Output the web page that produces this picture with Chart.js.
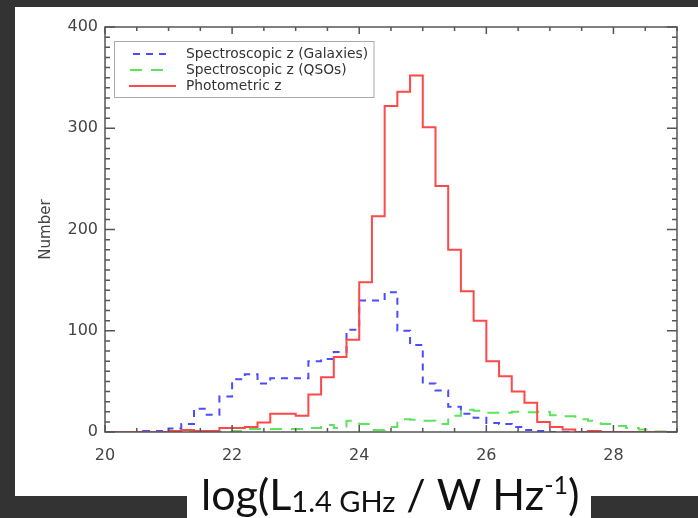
<!DOCTYPE html>
<html>
<head>
<meta charset="utf-8">
<script src="https://cdn.jsdelivr.net/npm/chart.js@4.4.1/dist/chart.umd.min.js"></script>
<style>
  html, body { margin: 0; padding: 0; background: #333; }
  #chart { display: block; }
</style>
</head>
<body>
<canvas id="chart" width="698" height="518"></canvas>
<script>
// bin edges of the histograms (0.2 wide)
const binEdges = [
  20.0, 20.2, 20.4, 20.6, 20.8, 21.0, 21.2, 21.4, 21.6, 21.8,
  22.0, 22.2, 22.4, 22.6, 22.8, 23.0, 23.2, 23.4, 23.6, 23.8,
  24.0, 24.2, 24.4, 24.6, 24.8, 25.0, 25.2, 25.4, 25.6, 25.8,
  26.0, 26.2, 26.4, 26.6, 26.8, 27.0, 27.2, 27.4, 27.6, 27.8,
  28.0, 28.2, 28.4, 28.6, 28.8, 29.0
];

// counts per bin
const galaxies = [
  0, 0, 0, 1, 1, 3.5, 8, 23, 17, 35,
  52, 57, 48, 53, 53, 53, 70, 72, 79, 101,
  130, 130, 138, 100, 86, 48, 41, 25, 18, 14,
  9, 8, 5, 2, 1, 0, 0, 0, 0, 0,
  0, 0, 0, 0, 0
];
const qsos = [
  0, 0, 0, 0, 0, 0, 0, 0, 0, 0.5,
  1, 3, 3, 3, 3, 3, 4, 7, 4, 11,
  8, 2, 5, 12.5, 12, 11, 8, 16, 22, 21,
  19, 19, 20, 19.5, 20, 16.5, 15.5, 12.5, 11, 8,
  6, 4, 2.5, 0.5, 0.5
];
const photometric = [
  0, 0, 0, 0, 0, 1, 2, 1, 1, 4,
  4, 5, 9.5, 18, 18, 16, 37, 54, 74, 91,
  148, 213, 322, 336, 352, 301, 243, 180, 139, 110,
  70, 55, 40, 29, 10, 5, 2.5, 0, 1, 0,
  0, 0, 0, 0, 0
];

const seriesLabels = ['Spectroscopic z (Galaxies)', 'Spectroscopic z (QSOs)', 'Photometric z'];
const xTicks = [20, 22, 24, 26, 28];
const yTicks = [0, 100, 200, 300, 400];

const BLUE = '#4b4bff';
const GREEN = '#5ee35e';
const RED = '#ff4848';
const AXIS = '#555';
const TEXT = '#444';

function toSteps(counts) {
  // one point per left bin edge, plus the closing right edge
  return binEdges.map((x, i) => ({ x: x, y: counts[Math.min(i, counts.length - 1)] }));
}

// white slide panels behind the plot
const backdrop = {
  id: 'backdrop',
  beforeDraw(chart) {
    const ctx = chart.ctx;
    ctx.save();
    ctx.fillStyle = '#333';
    ctx.fillRect(0, 0, chart.width, chart.height);
    ctx.fillStyle = '#fff';
    ctx.fillRect(15, 7, 683, 489);
    ctx.fillRect(187, 470, 404, 48);
    ctx.restore();
  }
};

// IDL style box with inward ticks
const frame = {
  id: 'frame',
  afterDatasetsDraw(chart) {
    const { ctx, chartArea: a, scales: { x, y } } = chart;
    ctx.save();
    ctx.strokeStyle = AXIS;
    ctx.lineWidth = 1.5;
    ctx.strokeRect(a.left, a.top, a.right - a.left, a.bottom - a.top);
    ctx.beginPath();
    for (let k = 0; k <= 18; k++) {
      const v = 20 + k * 0.5;
      const px = x.getPixelForValue(v);
      const len = k % 4 === 0 ? 7 : 4;
      ctx.moveTo(px, a.bottom); ctx.lineTo(px, a.bottom - len);
      ctx.moveTo(px, a.top); ctx.lineTo(px, a.top + len);
    }
    for (let k = 0; k <= 40; k++) {
      const py = y.getPixelForValue(k * 10);
      const len = k % 10 === 0 ? 10 : 5;
      ctx.moveTo(a.left, py); ctx.lineTo(a.left + len, py);
      ctx.moveTo(a.right, py); ctx.lineTo(a.right - len, py);
    }
    ctx.stroke();
    ctx.restore();
  }
};

// legend box in the top left corner of the plot
const boxLegend = {
  id: 'boxLegend',
  afterDraw(chart) {
    const ctx = chart.ctx;
    const rows = [
      { ds: chart.data.datasets[1], y: 54, x0: 133, x1: 168 },
      { ds: chart.data.datasets[2], y: 70, x0: 130, x1: 168 },
      { ds: chart.data.datasets[0], y: 86, x0: 129, x1: 176 }
    ];
    ctx.save();
    ctx.strokeStyle = '#aaa';
    ctx.lineWidth = 1;
    ctx.strokeRect(114.5, 41.5, 259.5, 56);
    ctx.font = '13.8px "DejaVu Sans"';
    ctx.textBaseline = 'middle';
    ctx.fillStyle = '#333';
    rows.forEach(r => {
      ctx.strokeStyle = r.ds.borderColor;
      ctx.lineWidth = 2;
      ctx.setLineDash(r.ds.borderDash || []);
      ctx.beginPath();
      ctx.moveTo(r.x0, r.y);
      ctx.lineTo(r.x1, r.y);
      ctx.stroke();
      ctx.setLineDash([]);
      ctx.fillText(r.ds.label, 186, r.y);
    });
    ctx.restore();
  }
};

// x axis title with subscript and superscript
const xTitle = {
  id: 'xTitle',
  afterDraw(chart) {
    const ctx = chart.ctx;
    const runs = [
      { t: 'log(L', size: 43, dy: 0 },
      { t: '1.4 GHz', size: 29, dy: 2 },
      { t: ' / W Hz', size: 43, dy: 0 },
      { t: '-1', size: 25, dy: -16 },
      { t: ')', size: 43, dy: 0 }
    ];
    ctx.save();
    ctx.fillStyle = '#111';
    ctx.textBaseline = 'alphabetic';
    let x = 201;
    const base = 510;
    runs.forEach(r => {
      ctx.font = r.size + 'px Lato';
      ctx.fillText(r.t, x, base + r.dy);
      x += ctx.measureText(r.t).width;
    });
    ctx.restore();
  }
};

new Chart(document.getElementById('chart'), {
  type: 'line',
  data: {
    datasets: [
      {
        label: seriesLabels[2],
        data: toSteps(photometric),
        borderColor: RED,
        borderWidth: 2,
        stepped: true,
        pointRadius: 0,
        fill: false
      },
      {
        label: seriesLabels[0],
        data: toSteps(galaxies),
        borderColor: BLUE,
        borderWidth: 2,
        borderDash: [7, 6],
        stepped: true,
        pointRadius: 0,
        fill: false
      },
      {
        label: seriesLabels[1],
        data: toSteps(qsos),
        borderColor: GREEN,
        borderWidth: 2,
        borderDash: [12, 9],
        stepped: true,
        pointRadius: 0,
        fill: false
      }
    ]
  },
  options: {
    responsive: false,
    animation: false,
    devicePixelRatio: 1,
    layout: { padding: { left: 0, top: 27, right: 21, bottom: 0 } },
    plugins: {
      legend: { display: false },
      tooltip: { enabled: false }
    },
    scales: {
      x: {
        type: 'linear',
        min: 20,
        max: 29,
        grid: { display: false, drawTicks: false },
        border: { display: false },
        afterBuildTicks: s => { s.ticks = xTicks.map(v => ({ value: v })); },
        afterFit: s => { s.height = 86; },
        ticks: {
          color: TEXT,
          padding: 14,
          maxRotation: 0,
          font: { family: 'DejaVu Sans', size: 16 }
        }
      },
      y: {
        min: 0,
        max: 400,
        grid: { display: false, drawTicks: false },
        border: { display: false },
        afterBuildTicks: s => { s.ticks = yTicks.map(v => ({ value: v })); },
        afterFit: s => { s.width = 105; },
        ticks: {
          color: TEXT,
          padding: 7,
          font: { family: 'DejaVu Sans', size: 16 }
        },
        title: {
          display: true,
          text: 'Number',
          color: TEXT,
          padding: { top: 37.5, bottom: 0 },
          font: { family: 'DejaVu Sans', size: 15 }
        }
      }
    }
  },
  plugins: [backdrop, frame, boxLegend, xTitle]
});
</script>
</body>
</html>
